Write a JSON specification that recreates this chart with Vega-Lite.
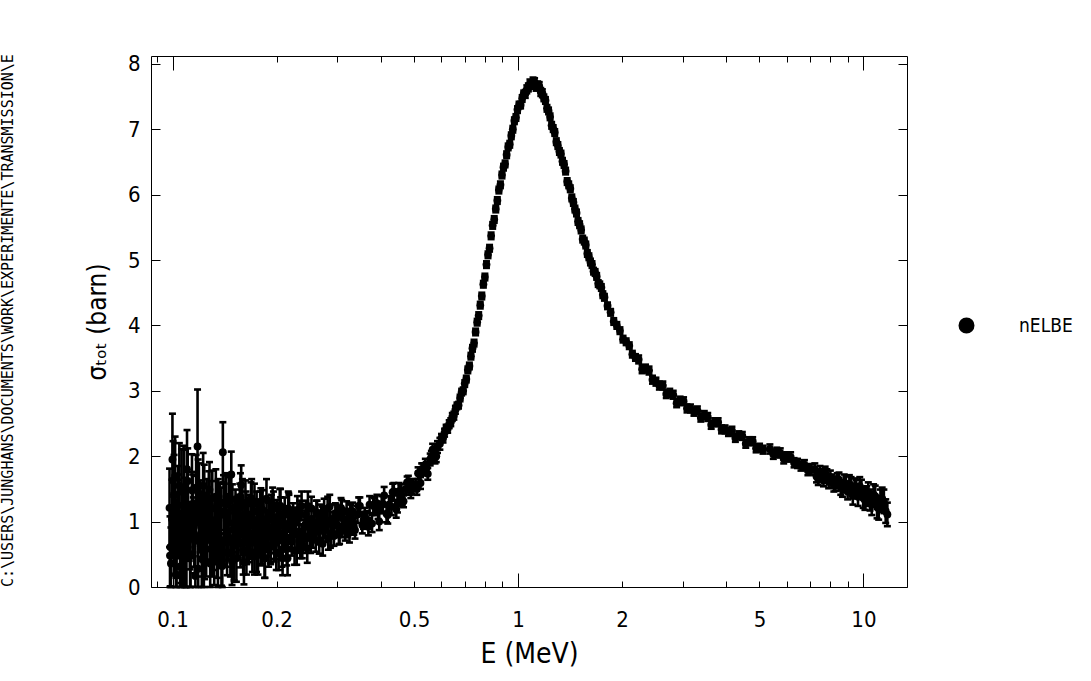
{
"$schema": "https://vega.github.io/schema/vega-lite/v6.json",
"width": 756, "height": 531,
"autosize": {"type": "none"},
"padding": {"left": 151, "top": 56, "right": 184, "bottom": 94},
"background": "white",
"title": {"text": "C:\\USERS\\JUNGHANS\\DOCUMENTS\\WORK\\EXPERIMENTE\\TRANSMISSION\\E", "orient": "left", "anchor": "start", "font": "DejaVu Sans Mono", "fontSize": 15, "fontWeight": "normal", "color": "black", "offset": 68, "frame": "group"},
"config": {
  "view": {"stroke": "black", "strokeWidth": 1},
  "axis": {"domain": false, "grid": false, "tickColor": "black", "tickWidth": 1, "labelColor": "black", "titleColor": "black", "labelFont": "Liberation Sans Narrow, DejaVu Sans Condensed, Liberation Sans", "titleFont": "Liberation Sans Narrow, DejaVu Sans Condensed, Liberation Sans", "titleFontWeight": "normal", "labelFontSize": 22}
},
"data": {"values": [
{"E":0.0980,"sigma":1.21,"err":0.6},{"E":0.0985,"sigma":0.61,"err":0.6},{"E":0.0989,"sigma":0.36,"err":0.55},{"E":0.0999,"sigma":1.95,"err":0.7},{"E":0.1003,"sigma":1.63,"err":0.6},{"E":0.1008,"sigma":0.78,"err":0.6},{"E":0.1017,"sigma":1.7,"err":0.6},{"E":0.1022,"sigma":0.19,"err":0.55},{"E":0.1027,"sigma":0.19,"err":0.5},{"E":0.1036,"sigma":1.04,"err":0.6},
{"E":0.1041,"sigma":1.12,"err":0.6},{"E":0.1046,"sigma":1.55,"err":0.65},{"E":0.1056,"sigma":0.61,"err":0.55},{"E":0.1061,"sigma":1.46,"err":0.65},{"E":0.1066,"sigma":0.27,"err":0.6},{"E":0.1076,"sigma":1.46,"err":0.7},{"E":0.1081,"sigma":0.44,"err":0.55},{"E":0.1086,"sigma":1.12,"err":0.55},{"E":0.1096,"sigma":0.53,"err":0.6},{"E":0.1101,"sigma":1.8,"err":0.6},
{"E":0.1106,"sigma":1.62,"err":0.5},{"E":0.1117,"sigma":0.85,"err":0.45},{"E":0.1122,"sigma":0.77,"err":0.5},{"E":0.1127,"sigma":0.5,"err":0.5},{"E":0.1138,"sigma":1.48,"err":0.55},{"E":0.1143,"sigma":1.22,"err":0.5},{"E":0.1148,"sigma":0.92,"err":0.45},{"E":0.1159,"sigma":0.71,"err":0.5},{"E":0.1164,"sigma":0.17,"err":0.5},{"E":0.1170,"sigma":1.2,"err":0.5},
{"E":0.1181,"sigma":2.15,"err":0.87},{"E":0.1186,"sigma":1.45,"err":0.5},{"E":0.1192,"sigma":1.34,"err":0.55},{"E":0.1203,"sigma":1.13,"err":0.5},{"E":0.1209,"sigma":0.92,"err":0.5},{"E":0.1215,"sigma":0.43,"err":0.45},{"E":0.1226,"sigma":1.55,"err":0.5},{"E":0.1232,"sigma":0.4,"err":0.45},{"E":0.1238,"sigma":0.57,"err":0.45},{"E":0.1249,"sigma":1.02,"err":0.42},
{"E":0.1255,"sigma":1.23,"err":0.42},{"E":0.1261,"sigma":0.78,"err":0.4},{"E":0.1273,"sigma":1.32,"err":0.45},{"E":0.1279,"sigma":1.49,"err":0.42},{"E":0.1285,"sigma":0.36,"err":0.4},{"E":0.1297,"sigma":1.2,"err":0.42},{"E":0.1303,"sigma":0.58,"err":0.42},{"E":0.1309,"sigma":0.66,"err":0.4},{"E":0.1322,"sigma":0.96,"err":0.45},{"E":0.1328,"sigma":0.97,"err":0.42},
{"E":0.1334,"sigma":1.38,"err":0.42},{"E":0.1347,"sigma":0.54,"err":0.4},{"E":0.1353,"sigma":0.38,"err":0.4},{"E":0.1359,"sigma":0.84,"err":0.42},{"E":0.1372,"sigma":1.14,"err":0.45},{"E":0.1378,"sigma":1.1,"err":0.42},{"E":0.1385,"sigma":0.42,"err":0.4},{"E":0.1398,"sigma":2.06,"err":0.46},{"E":0.1404,"sigma":1.29,"err":0.42},{"E":0.1411,"sigma":0.72,"err":0.4},
{"E":0.1425,"sigma":1.26,"err":0.45},{"E":0.1431,"sigma":0.71,"err":0.4},{"E":0.1438,"sigma":0.53,"err":0.35},{"E":0.1452,"sigma":0.98,"err":0.33},{"E":0.1458,"sigma":1.32,"err":0.36},{"E":0.1465,"sigma":1.33,"err":0.36},{"E":0.1479,"sigma":1.72,"err":0.35},{"E":0.1486,"sigma":0.39,"err":0.36},{"E":0.1493,"sigma":0.88,"err":0.35},{"E":0.1507,"sigma":0.43,"err":0.33},
{"E":0.1514,"sigma":0.99,"err":0.36},{"E":0.1521,"sigma":1.13,"err":0.36},{"E":0.1536,"sigma":1.03,"err":0.35},{"E":0.1543,"sigma":0.83,"err":0.36},{"E":0.1550,"sigma":0.78,"err":0.34},{"E":0.1565,"sigma":1.23,"err":0.35},{"E":0.1572,"sigma":1.38,"err":0.36},{"E":0.1580,"sigma":1.56,"err":0.3},{"E":0.1594,"sigma":0.93,"err":0.36},{"E":0.1601,"sigma":0.55,"err":0.36},
{"E":0.1609,"sigma":0.38,"err":0.34},{"E":0.1625,"sigma":1.28,"err":0.35},{"E":0.1632,"sigma":1.1,"err":0.36},{"E":0.1640,"sigma":0.68,"err":0.33},{"E":0.1655,"sigma":1.06,"err":0.3},{"E":0.1663,"sigma":0.68,"err":0.3},{"E":0.1671,"sigma":0.82,"err":0.3},{"E":0.1687,"sigma":1.3,"err":0.3},{"E":0.1694,"sigma":1.35,"err":0.3},{"E":0.1702,"sigma":0.53,"err":0.3},
{"E":0.1718,"sigma":0.97,"err":0.3},{"E":0.1726,"sigma":0.49,"err":0.3},{"E":0.1735,"sigma":0.73,"err":0.3},{"E":0.1751,"sigma":1.16,"err":0.3},{"E":0.1759,"sigma":1.01,"err":0.3},{"E":0.1767,"sigma":0.49,"err":0.3},{"E":0.1784,"sigma":0.87,"err":0.3},{"E":0.1792,"sigma":1.16,"err":0.3},{"E":0.1801,"sigma":1.21,"err":0.3},{"E":0.1818,"sigma":0.63,"err":0.3},
{"E":0.1826,"sigma":0.77,"err":0.3},{"E":0.1835,"sigma":1.01,"err":0.3},{"E":0.1852,"sigma":0.44,"err":0.3},{"E":0.1861,"sigma":0.87,"err":0.3},{"E":0.1870,"sigma":1.35,"err":0.3},{"E":0.1887,"sigma":0.77,"err":0.3},{"E":0.1896,"sigma":0.57,"err":0.26},{"E":0.1905,"sigma":1.07,"err":0.26},{"E":0.1923,"sigma":0.61,"err":0.26},{"E":0.1932,"sigma":1.15,"err":0.26},
{"E":0.1941,"sigma":0.9,"err":0.26},{"E":0.1959,"sigma":1.2,"err":0.26},{"E":0.1968,"sigma":0.65,"err":0.26},{"E":0.1978,"sigma":0.69,"err":0.26},{"E":0.1996,"sigma":0.52,"err":0.26},{"E":0.2005,"sigma":1.07,"err":0.26},{"E":0.2015,"sigma":1.03,"err":0.26},{"E":0.2034,"sigma":0.82,"err":0.26},{"E":0.2043,"sigma":1.24,"err":0.26},{"E":0.2053,"sigma":1.24,"err":0.26},
{"E":0.2073,"sigma":0.57,"err":0.26},{"E":0.2082,"sigma":0.44,"err":0.26},{"E":0.2092,"sigma":0.94,"err":0.26},{"E":0.2112,"sigma":1.11,"err":0.26},{"E":0.2122,"sigma":0.9,"err":0.26},{"E":0.2132,"sigma":0.73,"err":0.26},{"E":0.2152,"sigma":0.44,"err":0.26},{"E":0.2162,"sigma":1.2,"err":0.26},{"E":0.2172,"sigma":1.15,"err":0.26},{"E":0.2193,"sigma":0.88,"err":0.22},
{"E":0.2203,"sigma":0.77,"err":0.22},{"E":0.2213,"sigma":0.7,"err":0.22},{"E":0.2234,"sigma":1.06,"err":0.22},{"E":0.2244,"sigma":0.99,"err":0.22},{"E":0.2255,"sigma":0.56,"err":0.22},{"E":0.2277,"sigma":0.99,"err":0.22},{"E":0.2287,"sigma":0.56,"err":0.22},{"E":0.2298,"sigma":1.17,"err":0.22},{"E":0.2320,"sigma":0.81,"err":0.22},{"E":0.2330,"sigma":1.1,"err":0.22},
{"E":0.2341,"sigma":0.66,"err":0.22},{"E":0.2363,"sigma":1.24,"err":0.22},{"E":0.2374,"sigma":0.66,"err":0.22},{"E":0.2386,"sigma":0.74,"err":0.22},{"E":0.2408,"sigma":0.92,"err":0.22},{"E":0.2419,"sigma":0.95,"err":0.22},{"E":0.2431,"sigma":1.1,"err":0.22},{"E":0.2454,"sigma":0.59,"err":0.22},{"E":0.2465,"sigma":1.24,"err":0.22},{"E":0.2477,"sigma":1.02,"err":0.22},
{"E":0.2500,"sigma":0.84,"err":0.22},{"E":0.2512,"sigma":0.74,"err":0.22},{"E":0.2524,"sigma":1.2,"err":0.18},{"E":0.2548,"sigma":0.78,"err":0.18},{"E":0.2559,"sigma":0.9,"err":0.18},{"E":0.2571,"sigma":0.99,"err":0.18},{"E":0.2596,"sigma":0.72,"err":0.18},{"E":0.2608,"sigma":1.14,"err":0.18},{"E":0.2620,"sigma":1.14,"err":0.18},{"E":0.2645,"sigma":0.84,"err":0.18},
{"E":0.2657,"sigma":0.69,"err":0.18},{"E":0.2670,"sigma":0.93,"err":0.18},{"E":0.2695,"sigma":1.08,"err":0.18},{"E":0.2707,"sigma":1.05,"err":0.18},{"E":0.2720,"sigma":0.66,"err":0.18},{"E":0.2746,"sigma":1.17,"err":0.18},{"E":0.2759,"sigma":0.93,"err":0.18},{"E":0.2772,"sigma":0.87,"err":0.18},{"E":0.2798,"sigma":1.02,"err":0.18},{"E":0.2811,"sigma":1.2,"err":0.18},
{"E":0.2824,"sigma":0.75,"err":0.18},{"E":0.2851,"sigma":1.23,"err":0.18},{"E":0.2864,"sigma":0.78,"err":0.18},{"E":0.2878,"sigma":0.81,"err":0.18},{"E":0.2905,"sigma":1.0,"err":0.15},{"E":0.2918,"sigma":0.93,"err":0.15},{"E":0.2932,"sigma":0.78,"err":0.15},{"E":0.2960,"sigma":1.13,"err":0.15},{"E":0.2974,"sigma":1.11,"err":0.15},{"E":0.2988,"sigma":0.96,"err":0.15},
{"E":0.3016,"sigma":1.08,"err":0.15},{"E":0.3030,"sigma":0.8,"err":0.15},{"E":0.3044,"sigma":0.81,"err":0.15},{"E":0.3073,"sigma":1.21,"err":0.15},{"E":0.3087,"sigma":1.18,"err":0.15},{"E":0.3102,"sigma":0.91,"err":0.15},{"E":0.3131,"sigma":1.03,"err":0.15},{"E":0.3146,"sigma":1.0,"err":0.15},{"E":0.3161,"sigma":0.86,"err":0.15},{"E":0.3190,"sigma":1.16,"err":0.15},
{"E":0.3205,"sigma":0.91,"err":0.15},{"E":0.3220,"sigma":0.98,"err":0.15},{"E":0.3251,"sigma":0.83,"err":0.15},{"E":0.3266,"sigma":1.13,"err":0.15},{"E":0.3281,"sigma":1.11,"err":0.15},
{"E":0.0983,"sigma":0.48,"err":0.6},{"E":0.0996,"sigma":1.04,"err":0.6},{"E":0.1010,"sigma":1.42,"err":0.6},{"E":0.1023,"sigma":0.74,"err":0.6},{"E":0.1037,"sigma":1.25,"err":0.6},{"E":0.1051,"sigma":0.31,"err":0.6},{"E":0.1065,"sigma":0.95,"err":0.6},{"E":0.1080,"sigma":1.5,"err":0.6},{"E":0.1094,"sigma":0.57,"err":0.6},
{"E":0.1109,"sigma":1.11,"err":0.5},{"E":0.1124,"sigma":0.47,"err":0.5},{"E":0.1139,"sigma":1.26,"err":0.5},{"E":0.1155,"sigma":0.81,"err":0.5},{"E":0.1170,"sigma":1.52,"err":0.5},{"E":0.1186,"sigma":0.28,"err":0.5},{"E":0.1202,"sigma":1.03,"err":0.5},{"E":0.1218,"sigma":0.66,"err":0.5},{"E":0.1235,"sigma":1.37,"err":0.5},
{"E":0.1251,"sigma":0.58,"err":0.42},{"E":0.1268,"sigma":1.1,"err":0.42},{"E":0.1285,"sigma":0.84,"err":0.42},{"E":0.1303,"sigma":1.36,"err":0.42},{"E":0.1320,"sigma":0.45,"err":0.42},{"E":0.1338,"sigma":0.93,"err":0.42},{"E":0.1356,"sigma":1.23,"err":0.42},{"E":0.1374,"sigma":0.71,"err":0.42},{"E":0.1393,"sigma":0.32,"err":0.42},{"E":0.1412,"sigma":1.16,"err":0.42},
{"E":0.1431,"sigma":1.38,"err":0.36},{"E":0.1450,"sigma":0.77,"err":0.36},{"E":0.1470,"sigma":0.52,"err":0.36},{"E":0.1490,"sigma":1.21,"err":0.36},{"E":0.1510,"sigma":0.96,"err":0.36},{"E":0.1530,"sigma":0.44,"err":0.36},{"E":0.1551,"sigma":1.05,"err":0.36},{"E":0.1572,"sigma":0.66,"err":0.36},{"E":0.1593,"sigma":1.29,"err":0.36},{"E":0.1614,"sigma":0.85,"err":0.36},{"E":0.1636,"sigma":0.55,"err":0.36},
{"E":0.1658,"sigma":1.11,"err":0.3},{"E":0.1681,"sigma":0.73,"err":0.3},{"E":0.1703,"sigma":0.94,"err":0.3},{"E":0.1726,"sigma":1.28,"err":0.3},{"E":0.1750,"sigma":0.53,"err":0.3},{"E":0.1773,"sigma":1.04,"err":0.3},{"E":0.1797,"sigma":0.65,"err":0.3},{"E":0.1822,"sigma":1.18,"err":0.3},{"E":0.1846,"sigma":0.44,"err":0.3},{"E":0.1871,"sigma":0.87,"err":0.3},
{"E":0.1896,"sigma":1.03,"err":0.26},{"E":0.1922,"sigma":0.63,"err":0.26},{"E":0.1948,"sigma":1.26,"err":0.26},{"E":0.1974,"sigma":0.78,"err":0.26},{"E":0.2001,"sigma":0.94,"err":0.26},{"E":0.2028,"sigma":0.52,"err":0.26},{"E":0.2055,"sigma":1.11,"err":0.26},{"E":0.2083,"sigma":0.71,"err":0.26},{"E":0.2111,"sigma":0.97,"err":0.26},{"E":0.2140,"sigma":0.59,"err":0.26},{"E":0.2169,"sigma":1.18,"err":0.26},
{"E":0.3320,"sigma":1.16,"err":0.13},{"E":0.3347,"sigma":0.93,"err":0.13},{"E":0.3374,"sigma":0.87,"err":0.13},{"E":0.3429,"sigma":1.11,"err":0.13},{"E":0.3457,"sigma":1.24,"err":0.13},{"E":0.3485,"sigma":1.24,"err":0.13},{"E":0.3542,"sigma":0.95,"err":0.13},{"E":0.3571,"sigma":1.02,"err":0.13},{"E":0.3600,"sigma":1.08,"err":0.13},{"E":0.3658,"sigma":1.03,"err":0.13},
{"E":0.3688,"sigma":0.92,"err":0.13},{"E":0.3718,"sigma":1.26,"err":0.13},{"E":0.3779,"sigma":0.97,"err":0.13},{"E":0.3809,"sigma":1.25,"err":0.13},{"E":0.3840,"sigma":1.23,"err":0.13},{"E":0.3903,"sigma":1.28,"err":0.13},{"E":0.3934,"sigma":1.17,"err":0.13},{"E":0.3966,"sigma":1.0,"err":0.13},{"E":0.4031,"sigma":1.26,"err":0.13},{"E":0.4064,"sigma":1.27,"err":0.13},
{"E":0.4097,"sigma":1.4,"err":0.13},{"E":0.4163,"sigma":1.12,"err":0.13},{"E":0.4197,"sigma":1.1,"err":0.13},{"E":0.4231,"sigma":1.26,"err":0.13},{"E":0.4300,"sigma":1.23,"err":0.13},{"E":0.4335,"sigma":1.45,"err":0.13},{"E":0.4370,"sigma":1.46,"err":0.13},{"E":0.4441,"sigma":1.19,"err":0.13},{"E":0.4477,"sigma":1.27,"err":0.13},{"E":0.4514,"sigma":1.46,"err":0.13},
{"E":0.4587,"sigma":1.48,"err":0.09},{"E":0.4624,"sigma":1.34,"err":0.09},{"E":0.4662,"sigma":1.31,"err":0.09},{"E":0.4738,"sigma":1.5,"err":0.09},{"E":0.4776,"sigma":1.6,"err":0.09},{"E":0.4815,"sigma":1.61,"err":0.09},{"E":0.4894,"sigma":1.45,"err":0.09},{"E":0.4933,"sigma":1.51,"err":0.09},{"E":0.4973,"sigma":1.56,"err":0.09},{"E":0.5054,"sigma":1.56,"err":0.09},
{"E":0.5095,"sigma":1.5,"err":0.09},{"E":0.5137,"sigma":1.74,"err":0.09},{"E":0.5220,"sigma":1.59,"err":0.09},{"E":0.5262,"sigma":1.8,"err":0.09},{"E":0.5305,"sigma":1.8,"err":0.09},{"E":0.5392,"sigma":1.87,"err":0.09},{"E":0.5436,"sigma":1.82,"err":0.09},{"E":0.5480,"sigma":1.73,"err":0.09},{"E":0.5569,"sigma":1.95,"err":0.09},{"E":0.5614,"sigma":1.99,"err":0.09},
{"E":0.5660,"sigma":2.1,"err":0.09},{"E":0.5752,"sigma":1.98,"err":0.09},{"E":0.5799,"sigma":2.0,"err":0.09},{"E":0.5846,"sigma":2.14,"err":0.09},{"E":0.5941,"sigma":2.19,"err":0.09},
{"E":0.6004,"sigma":2.28,"err":0.06},{"E":0.6066,"sigma":2.27,"err":0.06},{"E":0.6129,"sigma":2.36,"err":0.06},{"E":0.6193,"sigma":2.42,"err":0.06},{"E":0.6257,"sigma":2.42,"err":0.06},{"E":0.6322,"sigma":2.49,"err":0.06},{"E":0.6388,"sigma":2.52,"err":0.06},{"E":0.6454,"sigma":2.6,"err":0.06},{"E":0.6521,"sigma":2.62,"err":0.06},{"E":0.6589,"sigma":2.71,"err":0.06},
{"E":0.6658,"sigma":2.77,"err":0.05},{"E":0.6727,"sigma":2.78,"err":0.05},{"E":0.6797,"sigma":2.89,"err":0.05},{"E":0.6868,"sigma":2.98,"err":0.05},{"E":0.6939,"sigma":3.0,"err":0.05},{"E":0.7011,"sigma":3.11,"err":0.05},{"E":0.7084,"sigma":3.18,"err":0.05},{"E":0.7158,"sigma":3.32,"err":0.05},{"E":0.7232,"sigma":3.38,"err":0.05},{"E":0.7307,"sigma":3.53,"err":0.05},
{"E":0.7383,"sigma":3.65,"err":0.05},{"E":0.7460,"sigma":3.73,"err":0.05},{"E":0.7538,"sigma":3.9,"err":0.05},{"E":0.7616,"sigma":4.05,"err":0.05},{"E":0.7695,"sigma":4.15,"err":0.05},{"E":0.7775,"sigma":4.31,"err":0.05},{"E":0.7856,"sigma":4.45,"err":0.05},{"E":0.7938,"sigma":4.63,"err":0.05},{"E":0.8020,"sigma":4.74,"err":0.05},{"E":0.8104,"sigma":4.93,"err":0.05},
{"E":0.8188,"sigma":5.08,"err":0.05},{"E":0.8273,"sigma":5.18,"err":0.05},{"E":0.8359,"sigma":5.37,"err":0.05},{"E":0.8446,"sigma":5.53,"err":0.05},{"E":0.8534,"sigma":5.62,"err":0.05},{"E":0.8623,"sigma":5.78,"err":0.05},{"E":0.8712,"sigma":5.91,"err":0.05},{"E":0.8803,"sigma":6.07,"err":0.05},{"E":0.8894,"sigma":6.15,"err":0.05},{"E":0.8987,"sigma":6.3,"err":0.05},
{"E":0.9080,"sigma":6.42,"err":0.05},{"E":0.9175,"sigma":6.47,"err":0.05},{"E":0.9270,"sigma":6.61,"err":0.05},{"E":0.9366,"sigma":6.73,"err":0.05},{"E":0.9464,"sigma":6.77,"err":0.05},{"E":0.9562,"sigma":6.9,"err":0.05},{"E":0.9662,"sigma":7.0,"err":0.05},{"E":0.9762,"sigma":7.13,"err":0.05},{"E":0.9864,"sigma":7.18,"err":0.05},{"E":0.9966,"sigma":7.3,"err":0.05},
{"E":1.0070,"sigma":7.37,"err":0.05},{"E":1.0175,"sigma":7.37,"err":0.05},{"E":1.0281,"sigma":7.47,"err":0.05},{"E":1.0388,"sigma":7.54,"err":0.05},{"E":1.0496,"sigma":7.54,"err":0.06},{"E":1.0605,"sigma":7.61,"err":0.06},{"E":1.0715,"sigma":7.64,"err":0.06},{"E":1.0827,"sigma":7.7,"err":0.06},{"E":1.0939,"sigma":7.68,"err":0.06},{"E":1.1053,"sigma":7.73,"err":0.06},
{"E":1.1168,"sigma":7.72,"err":0.06},{"E":1.1284,"sigma":7.65,"err":0.06},{"E":1.1401,"sigma":7.67,"err":0.06},{"E":1.1520,"sigma":7.66,"err":0.06},{"E":1.1640,"sigma":7.57,"err":0.06},{"E":1.1761,"sigma":7.55,"err":0.06},{"E":1.1883,"sigma":7.48,"err":0.05},{"E":1.2007,"sigma":7.44,"err":0.05},{"E":1.2132,"sigma":7.32,"err":0.05},{"E":1.2258,"sigma":7.28,"err":0.05},
{"E":1.2385,"sigma":7.19,"err":0.05},{"E":1.2514,"sigma":7.06,"err":0.05},{"E":1.2644,"sigma":7.01,"err":0.05},{"E":1.2776,"sigma":6.95,"err":0.05},{"E":1.2909,"sigma":6.81,"err":0.05},{"E":1.3043,"sigma":6.75,"err":0.05},{"E":1.3179,"sigma":6.66,"err":0.05},{"E":1.3316,"sigma":6.62,"err":0.05},{"E":1.3454,"sigma":6.51,"err":0.05},{"E":1.3594,"sigma":6.46,"err":0.05},
{"E":1.3736,"sigma":6.36,"err":0.05},{"E":1.3879,"sigma":6.2,"err":0.05},{"E":1.4023,"sigma":6.15,"err":0.05},{"E":1.4169,"sigma":6.09,"err":0.05},{"E":1.4316,"sigma":5.95,"err":0.05},{"E":1.4465,"sigma":5.88,"err":0.05},{"E":1.4616,"sigma":5.78,"err":0.05},{"E":1.4768,"sigma":5.72,"err":0.05},{"E":1.4921,"sigma":5.59,"err":0.05},{"E":1.5076,"sigma":5.54,"err":0.05},
{"E":1.5233,"sigma":5.46,"err":0.05},{"E":1.5392,"sigma":5.32,"err":0.05},{"E":1.5552,"sigma":5.29,"err":0.05},{"E":1.5713,"sigma":5.23,"err":0.05},{"E":1.5877,"sigma":5.1,"err":0.05},{"E":1.6042,"sigma":5.05,"err":0.05},{"E":1.6209,"sigma":4.97,"err":0.05},{"E":1.6377,"sigma":4.93,"err":0.05},{"E":1.6548,"sigma":4.83,"err":0.05},{"E":1.6720,"sigma":4.81,"err":0.05},
{"E":1.6894,"sigma":4.75,"err":0.05},{"E":1.7069,"sigma":4.64,"err":0.05},{"E":1.7247,"sigma":4.62,"err":0.05},{"E":1.7426,"sigma":4.58,"err":0.05},{"E":1.7607,"sigma":4.47,"err":0.05},{"E":1.7791,"sigma":4.43,"err":0.05},{"E":1.8163,"sigma":4.3,"err":0.05},{"E":1.8542,"sigma":4.2,"err":0.05},{"E":1.8930,"sigma":4.06,"err":0.05},{"E":1.9326,"sigma":4.0,"err":0.05},
{"E":1.9730,"sigma":3.92,"err":0.05},{"E":2.0142,"sigma":3.79,"err":0.05},{"E":2.0563,"sigma":3.75,"err":0.05},{"E":2.0993,"sigma":3.69,"err":0.05},{"E":2.1432,"sigma":3.56,"err":0.05},{"E":2.1880,"sigma":3.51,"err":0.05},
{"E":2.235,"sigma":3.48,"err":0.06},{"E":2.287,"sigma":3.33,"err":0.06},{"E":2.340,"sigma":3.34,"err":0.06},{"E":2.395,"sigma":3.31,"err":0.06},{"E":2.451,"sigma":3.17,"err":0.06},{"E":2.508,"sigma":3.14,"err":0.06},{"E":2.566,"sigma":3.08,"err":0.06},{"E":2.626,"sigma":3.08,"err":0.06},{"E":2.687,"sigma":2.95,"err":0.06},{"E":2.750,"sigma":2.97,"err":0.06},
{"E":2.814,"sigma":2.94,"err":0.06},{"E":2.879,"sigma":2.81,"err":0.06},{"E":2.946,"sigma":2.85,"err":0.06},{"E":3.015,"sigma":2.84,"err":0.06},{"E":3.085,"sigma":2.73,"err":0.06},{"E":3.157,"sigma":2.73,"err":0.06},{"E":3.231,"sigma":2.68,"err":0.06},{"E":3.306,"sigma":2.7,"err":0.06},{"E":3.383,"sigma":2.59,"err":0.06},{"E":3.462,"sigma":2.63,"err":0.06},
{"E":3.542,"sigma":2.6,"err":0.06},{"E":3.625,"sigma":2.48,"err":0.06},{"E":3.709,"sigma":2.52,"err":0.06},{"E":3.796,"sigma":2.52,"err":0.06},{"E":3.884,"sigma":2.41,"err":0.06},{"E":3.975,"sigma":2.41,"err":0.06},{"E":4.067,"sigma":2.37,"err":0.06},{"E":4.162,"sigma":2.39,"err":0.06},{"E":4.259,"sigma":2.28,"err":0.06},{"E":4.358,"sigma":2.32,"err":0.06},
{"E":4.460,"sigma":2.31,"err":0.06},{"E":4.564,"sigma":2.19,"err":0.06},{"E":4.670,"sigma":2.23,"err":0.06},{"E":4.779,"sigma":2.23,"err":0.06},{"E":4.890,"sigma":2.12,"err":0.06},{"E":5.004,"sigma":2.13,"err":0.06},{"E":5.121,"sigma":2.1,"err":0.06},
{"E":5.360,"sigma":2.11,"err":0.07},{"E":5.485,"sigma":2.03,"err":0.07},{"E":5.613,"sigma":2.06,"err":0.07},{"E":5.744,"sigma":2.05,"err":0.07},{"E":5.878,"sigma":1.96,"err":0.07},{"E":6.015,"sigma":1.99,"err":0.07},{"E":6.155,"sigma":1.99,"err":0.07},{"E":6.298,"sigma":1.9,"err":0.07},{"E":6.445,"sigma":1.89,"err":0.07},{"E":6.595,"sigma":1.85,"err":0.07},
{"E":6.749,"sigma":1.87,"err":0.07},{"E":6.906,"sigma":1.78,"err":0.07},{"E":7.067,"sigma":1.8,"err":0.08},{"E":7.232,"sigma":1.8,"err":0.09},{"E":7.316,"sigma":1.69,"err":0.09},{"E":7.400,"sigma":1.65,"err":0.09},{"E":7.486,"sigma":1.76,"err":0.09},{"E":7.573,"sigma":1.71,"err":0.09},{"E":7.661,"sigma":1.63,"err":0.09},{"E":7.749,"sigma":1.74,"err":0.1},
{"E":7.839,"sigma":1.7,"err":0.1},{"E":7.930,"sigma":1.61,"err":0.1},{"E":8.022,"sigma":1.68,"err":0.1},{"E":8.115,"sigma":1.62,"err":0.1},{"E":8.209,"sigma":1.56,"err":0.1},{"E":8.304,"sigma":1.58,"err":0.11},{"E":8.400,"sigma":1.63,"err":0.11},{"E":8.497,"sigma":1.64,"err":0.11},{"E":8.596,"sigma":1.52,"err":0.11},{"E":8.695,"sigma":1.5,"err":0.12},
{"E":8.796,"sigma":1.6,"err":0.12},{"E":8.898,"sigma":1.57,"err":0.12},{"E":9.001,"sigma":1.46,"err":0.12},{"E":9.105,"sigma":1.58,"err":0.13},{"E":9.211,"sigma":1.55,"err":0.13},{"E":9.317,"sigma":1.39,"err":0.13},{"E":9.426,"sigma":1.53,"err":0.13},{"E":9.535,"sigma":1.5,"err":0.14},{"E":9.646,"sigma":1.38,"err":0.14},{"E":9.757,"sigma":1.54,"err":0.14},
{"E":9.870,"sigma":1.5,"err":0.14},{"E":9.984,"sigma":1.36,"err":0.15},{"E":10.10,"sigma":1.33,"err":0.15},{"E":10.22,"sigma":1.39,"err":0.15},{"E":10.33,"sigma":1.45,"err":0.15},{"E":10.45,"sigma":1.33,"err":0.16},{"E":10.57,"sigma":1.26,"err":0.16},{"E":10.70,"sigma":1.41,"err":0.16},{"E":10.82,"sigma":1.39,"err":0.16},{"E":10.95,"sigma":1.22,"err":0.17},
{"E":11.07,"sigma":1.2,"err":0.17},{"E":11.20,"sigma":1.32,"err":0.17},{"E":11.33,"sigma":1.35,"err":0.17},{"E":11.46,"sigma":1.31,"err":0.18},{"E":11.60,"sigma":1.16,"err":0.18},{"E":11.73,"sigma":1.11,"err":0.18}
]},
"resolve": {"axis": {"x": "independent", "y": "independent"}},
"layer": [
  {
    "mark": {"type": "errorbar", "ticks": true, "size": 7, "thickness": 2.6, "color": "black", "opacity": 1},
    "encoding": {
      "x": {"field": "E", "type": "quantitative",
            "scale": {"type": "log", "domain": [0.0866, 13.37], "nice": false},
            "axis": {"orient": "bottom", "values": [0.1, 0.2, 0.5, 1, 2, 5, 10], "ticks": false, "tickSize": 0, "domain": false, "labelPadding": 22, "labelFlush": false, "labelOverlap": false, "labelExpr": "datum.value < 1 ? '0.' + round(datum.value * 10) : format(datum.value, 'd')", "title": "E (MeV)", "titleFontSize": 28, "titlePadding": 10}},
      "y": {"field": "sigma", "type": "quantitative",
            "scale": {"domain": [0, 8.12], "nice": false, "zero": false, "clamp": true},
            "axis": {"orient": "left", "values": [0, 1, 2, 3, 4, 5, 6, 7, 8], "ticks": false, "tickSize": 0, "domain": false, "labelPadding": 11, "labelFlush": false, "labelOverlap": false, "title": "σₜₒₜ (barn)", "titleFontSize": 26, "titlePadding": 17}},
      "yError": {"field": "err"}
    }
  },
  {
    "mark": {"type": "point", "shape": "circle", "filled": true, "size": 62, "opacity": 1},
    "encoding": {
      "x": {"field": "E", "type": "quantitative",
            "scale": {"type": "log", "domain": [0.0866, 13.37], "nice": false},
            "axis": {"orient": "bottom", "values": [0.09, 0.1, 0.2, 0.3, 0.4, 0.5, 0.6, 0.7, 0.8, 0.9, 1, 2, 3, 4, 5, 6, 7, 8, 9, 10], "labels": false, "domain": false, "title": null, "tickSize": {"condition": {"test": "datum.value == 0.1 || datum.value == 1 || datum.value == 10", "value": -14}, "value": -6}}},
      "y": {"field": "sigma", "type": "quantitative",
            "scale": {"domain": [0, 8.12], "nice": false, "zero": false, "clamp": true},
            "axis": {"orient": "left", "values": [0, 1, 2, 3, 4, 5, 6, 7, 8], "labels": false, "domain": false, "title": null, "tickSize": -9}},
      "color": {"datum": "nELBE", "scale": {"range": ["black"]},
                "legend": {"title": null, "orient": "none", "legendX": 806, "legendY": 260, "padding": 0, "symbolType": "circle", "symbolSize": 210, "symbolFillColor": "black", "symbolStrokeColor": "black", "labelFont": "Liberation Sans Narrow, DejaVu Sans Condensed, Liberation Sans", "labelFontSize": 19, "labelColor": "black", "labelOffset": 43}}
    }
  },
  {
    "mark": {"type": "point", "opacity": 0},
    "encoding": {
      "x": {"field": "E", "type": "quantitative",
            "scale": {"type": "log", "domain": [0.0866, 13.37], "nice": false},
            "axis": {"orient": "top", "values": [0.09, 0.1, 0.2, 0.3, 0.4, 0.5, 0.6, 0.7, 0.8, 0.9, 1, 2, 3, 4, 5, 6, 7, 8, 9, 10], "labels": false, "domain": false, "title": null, "tickSize": {"condition": {"test": "datum.value == 0.1 || datum.value == 1 || datum.value == 10", "value": -14}, "value": -6}}},
      "y": {"field": "sigma", "type": "quantitative",
            "scale": {"domain": [0, 8.12], "nice": false, "zero": false, "clamp": true},
            "axis": {"orient": "right", "values": [0, 1, 2, 3, 4, 5, 6, 7, 8], "labels": false, "domain": false, "title": null, "tickSize": -9}}
    }
  }
]
}
